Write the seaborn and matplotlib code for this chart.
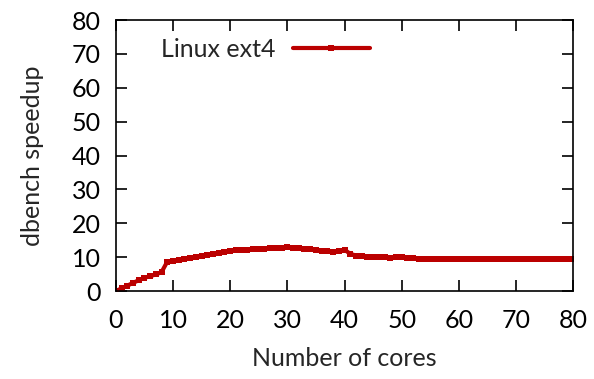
import numpy as np
import pandas as pd
import matplotlib
matplotlib.use("Agg")
import matplotlib.pyplot as plt
import seaborn as sns

cores = list(range(0, 81))
speedup = [
    0.0, 0.8, 1.6, 2.4, 3.2, 3.9, 4.4, 4.9, 5.6, 8.7,
    8.9, 9.1, 9.4, 9.7, 10.0, 10.3, 10.6, 10.9, 11.2, 11.5,
    11.8, 12.0, 12.1, 12.2, 12.3, 12.4, 12.5, 12.6, 12.7, 12.8,
    12.9, 12.8, 12.7, 12.5, 12.3, 12.1, 11.9, 11.8, 11.5, 11.9,
    12.2, 11.0, 10.5, 10.3, 10.2, 10.1, 10.0, 10.0, 9.9, 10.0,
    10.0, 9.8, 9.7, 9.6, 9.6, 9.5, 9.5, 9.5, 9.6, 9.5,
    9.5, 9.6, 9.5, 9.5, 9.5, 9.6, 9.5, 9.5, 9.5, 9.5,
    9.6, 9.5, 9.5, 9.5, 9.4, 9.5, 9.5, 9.5, 9.5, 9.5,
    9.6,
]
series_name = "Linux ext4"

df = pd.DataFrame({"cores": cores, "speedup": speedup, "fs": series_name})

sns.set_style("ticks")
plt.rcParams["font.family"] = ["Lato", "DejaVu Sans"]

fs = 18
fig = plt.figure(figsize=(5.94, 3.79), dpi=100)
ax = fig.add_axes([0.195, 0.232, 0.77, 0.715])

sns.lineplot(data=df, x="cores", y="speedup", hue="fs", palette=["#bb0000"],
             marker="s", markersize=4, markeredgewidth=0, linewidth=3, ax=ax)

ax.set_xlim(0, 80)
ax.set_ylim(0, 80)
ax.set_xticks(range(0, 81, 10))
ax.set_yticks(range(0, 81, 10))
ax.tick_params(direction="in", length=8, width=1.2, top=True, right=True,
               labelsize=fs, colors="black")
ax.tick_params(axis="x", pad=13)
ax.tick_params(axis="y", pad=11)
for s in ax.spines.values():
    s.set_visible(True)
    s.set_linewidth(1.2)
    s.set_color("black")

ax.set_xlabel("Number of cores", fontsize=fs, labelpad=11)
ax.set_ylabel("dbench speedup", fontsize=fs, labelpad=20)

leg = ax.legend(loc="upper left", frameon=False, markerfirst=False, fontsize=fs,
                handlelength=3.1, handletextpad=0.7,
                bbox_to_anchor=(0.065, 0.99), borderaxespad=0.2)
for h in leg.legend_handles:
    h.set_markersize(4)

fig.savefig("out.png", dpi=100)
